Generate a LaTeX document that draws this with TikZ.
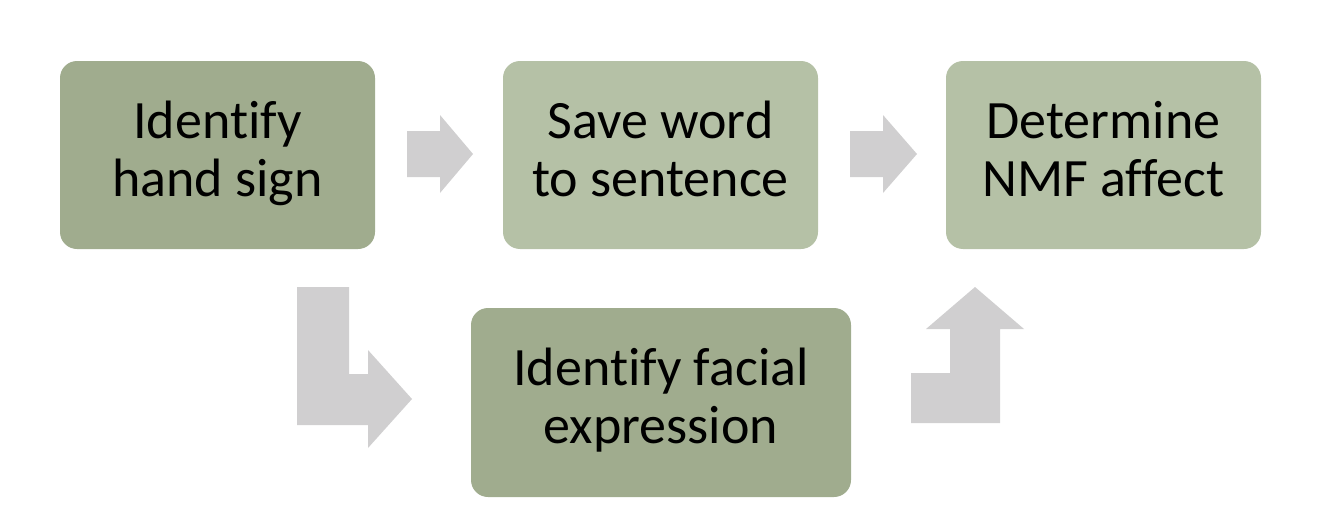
\documentclass[tikz,border=0pt]{standalone}
\usepackage{fontspec}
\setmainfont{Carlito}[Ligatures={NoCommon,NoDiscretionary}]
\definecolor{darkbox}{RGB}{160,172,142}
\definecolor{lightbox}{RGB}{181,193,166}
\definecolor{arrowgray}{RGB}{208,207,208}
\newcommand{\twolines}[2]{\rule{0pt}{44pt}#1\\#2\rule[-20pt]{0pt}{20pt}}
\tikzset{
  stepbox/.style={rectangle, rounded corners=17pt, draw=none, inner sep=0pt,
    align=center, font=\fontsize{54}{58}\selectfont, text=black},
  dark/.style={stepbox, fill=darkbox},
  light/.style={stepbox, fill=lightbox},
  blockarrow/.style={fill=arrowgray, draw=none}
}
\begin{document}
\begin{tikzpicture}[x=1pt,y=-1pt]
\useasboundingbox (0,0) rectangle (1326,530);
\node[dark, minimum width=315pt, minimum height=188pt] (hand) at (217.5,155) {\twolines{Identify}{hand sign}};
\node[light, minimum width=315pt, minimum height=188pt] (save) at (660.5,155) {\twolines{Save word}{to sentence}};
\node[light, minimum width=315pt, minimum height=188pt] (nmf) at (1103.5,155) {\twolines{Determine}{NMF affect}};
\node[dark, minimum width=380pt, minimum height=189pt] (face) at (661,402.5) {\twolines{Identify facial}{expression}};
% straight arrows
\fill[blockarrow] (407,131) -- (440,131) -- (440,115) -- (473,154) -- (440,193) -- (440,177) -- (407,177) -- cycle;
\fill[blockarrow] (850,131) -- (883,131) -- (883,115) -- (917,154) -- (883,193) -- (883,177) -- (850,177) -- cycle;
% bent arrow down then right
\fill[blockarrow] (297,287) -- (349,287) -- (349,374) -- (368,374) -- (368,350) -- (412,399) -- (368,448) -- (368,425) -- (297,425) -- cycle;
% bent arrow right then up
\fill[blockarrow] (911,373) -- (950,373) -- (950,329) -- (926,329) -- (975,287) -- (1024,329) -- (1000,329) -- (1000,423) -- (911,423) -- cycle;
\end{tikzpicture}
\end{document}
